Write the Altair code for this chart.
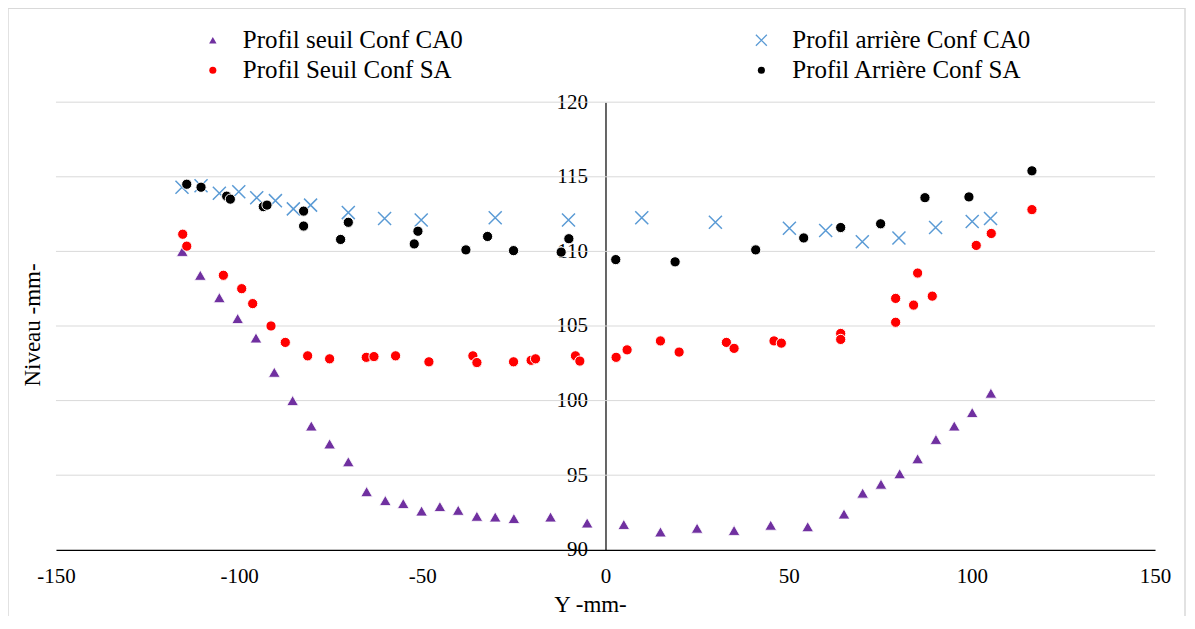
import altair as alt
import pandas as pd

# ---- data ----
seuil_ca0_x = [-115.5, -110.6, -105.4, -100.4, -95.4, -90.4, -85.4, -80.3, -75.3, -70.2, -65.2, -60.1,
               -55.2, -50.2, -45.2, -40.2, -35.1, -30.1, -25.0, -15.0, -5.0, 5.0, 15.0, 25.0, 35.1,
               45.1, 55.2, 65.1, 70.2, 75.2, 80.3, 85.2, 90.2, 95.2, 100.1, 105.2]
seuil_ca0_y = [110.0, 108.4, 106.9, 105.5, 104.2, 101.9, 100.0, 98.3, 97.1, 95.9, 93.9, 93.3,
               93.1, 92.6, 92.9, 92.65, 92.25, 92.2, 92.1, 92.2, 91.8, 91.7, 91.2, 91.45, 91.3,
               91.65, 91.55, 92.4, 93.8, 94.4, 95.1, 96.1, 97.4, 98.3, 99.2, 100.5]

seuil_sa_x = [-115.4, -114.3, -104.3, -99.3, -96.3, -91.3, -87.4, -81.3, -75.3, -65.3, -63.2, -57.3,
              -48.2, -36.2, -35.1, -25.1, -20.3, -19.1, -8.2, -7.0, 2.9, 5.9, 15.0, 20.1, 33.0, 35.1,
              46.0, 48.0, 64.2, 64.2, 79.2, 79.2, 84.1, 85.2, 89.2, 101.2, 105.3, 116.4]
seuil_sa_y = [111.15, 110.35, 108.4, 107.5, 106.5, 105.0, 103.9, 103.0, 102.8, 102.9, 102.95, 103.0,
              102.6, 103.0, 102.55, 102.6, 102.7, 102.8, 103.0, 102.65, 102.9, 103.4, 104.0, 103.25, 103.9, 103.5,
              104.0, 103.85, 104.5, 104.1, 105.25, 106.85, 106.4, 108.55, 107.0, 110.4, 111.2, 112.8]

arriere_ca0_x = [-115.6, -110.4, -105.4, -100.1, -95.2, -90.1, -85.2, -80.5, -70.2, -60.3, -50.3,
                 -30.1, -10.1, 9.9, 30.0, 50.2, 60.1, 70.1, 80.1, 90.1, 100.1, 105.1]
arriere_ca0_y = [114.3, 114.4, 113.9, 114.0, 113.6, 113.4, 112.85, 113.1, 112.6, 112.2, 112.1,
                 112.25, 112.1, 112.25, 111.95, 111.55, 111.4, 110.65, 110.9, 111.6, 112.0, 112.2]

arriere_sa_x = [-114.3, -110.4, -103.4, -102.4, -93.4, -92.4, -82.4, -82.4, -72.3, -70.2, -52.2, -51.2,
                -38.1, -32.2, -25.1, -12.1, -10.0, 2.8, 19.0, 41.0, 54.1, 64.2, 75.1, 87.2, 99.2, 116.4]
arriere_sa_y = [114.5, 114.3, 113.7, 113.5, 113.0, 113.1, 112.7, 111.7, 110.8, 111.95, 110.5, 111.35,
                110.1, 111.0, 110.05, 109.95, 110.85, 109.45, 109.3, 110.1, 110.9, 111.6, 111.85, 113.6, 113.65, 115.4]

series_names = ["Profil seuil Conf CA0", "Profil arrière Conf CA0",
                "Profil Seuil Conf SA", "Profil Arrière Conf SA"]
x_ticks = [-150, -100, -50, 0, 50, 100, 150]
y_ticks = [90, 95, 100, 105, 110, 115, 120]
grid_values = [95, 100, 105, 110, 115, 120]

# ---- styles ----
FONT = "Liberation Serif"
PURPLE = "#7030a0"
BLUE = "#5b9bd5"
RED = "#ff0000"
BLACK = "#000000"
W, H = 1100, 448
X_PATH = "M-1,-1L1,1M-1,1L1,-1"

xscale = alt.Scale(domain=[-150, 150], nice=False, zero=False)
yscale = alt.Scale(domain=[90, 120], nice=False, zero=False)
xaxis = alt.Axis(values=x_ticks, grid=False, ticks=False, domainColor="black", domainWidth=1.2,
                 labelFont=FONT, labelFontSize=21, labelColor="black", labelPadding=16,
                 labelFlush=False, labelOverlap=False, labelExpr="datum.value + ''", title=None)
yaxis = alt.Axis(values=y_ticks, orient="left", offset=-550, grid=False, ticks=False,
                 domainColor="black", domainWidth=1.2, labelFont=FONT, labelFontSize=21,
                 labelColor="black", labelPadding=18, labelFlush=False, labelOverlap=False,
                 labelExpr="datum.value + ''", title=None)


def df(xs, ys):
    return pd.DataFrame({"x": xs, "y": ys})


def enc(ch):
    return ch.encode(x=alt.X("x:Q", scale=xscale, axis=xaxis),
                     y=alt.Y("y:Q", scale=yscale, axis=yaxis))


grid = alt.Chart(pd.DataFrame({"v": grid_values})).mark_rule(color="#d9d9d9", strokeWidth=1).encode(
    y=alt.Y("v:Q", scale=yscale, axis=yaxis), x=alt.value(0), x2=alt.value(W))

border = alt.Chart(alt.Data(values=[{}])).mark_rect(fill=None, stroke="#d9d9d9", strokeWidth=1.5).encode(
    x=alt.value(-48), x2=alt.value(1130), y=alt.value(-94), y2=alt.value(620))

tri = enc(alt.Chart(df(seuil_ca0_x, seuil_ca0_y)).mark_point(
    shape="triangle-up", filled=True, fill=PURPLE, stroke="white", strokeWidth=0.8, size=135, opacity=1))
cross = enc(alt.Chart(df(arriere_ca0_x, arriere_ca0_y)).mark_point(
    shape=X_PATH, filled=False, stroke=BLUE, strokeWidth=1.5, size=170, opacity=1))
red = enc(alt.Chart(df(seuil_sa_x, seuil_sa_y)).mark_point(
    shape="circle", filled=True, fill=RED, stroke="white", strokeWidth=1, size=105, opacity=1))
blk = enc(alt.Chart(df(arriere_sa_x, arriere_sa_y)).mark_point(
    shape="circle", filled=True, fill=BLACK, stroke="white", strokeWidth=1, size=105, opacity=1))

one = alt.Data(values=[{}])


def sym(px, py, **kw):
    return alt.Chart(one).mark_point(opacity=1, **kw).encode(x=alt.value(px), y=alt.value(py))


def txt(s, px, py, **kw):
    return alt.Chart(one).mark_text(text=s, font=FONT, color="black", **kw).encode(
        x=alt.value(px), y=alt.value(py))


LFS = 25
legend = [
    sym(157, -62, shape="triangle-up", filled=True, fill=PURPLE, size=55),
    txt(series_names[0], 187, -62, align="left", baseline="middle", fontSize=LFS),
    sym(706, -62, shape=X_PATH, filled=False, stroke=BLUE, strokeWidth=1.3, size=120),
    txt(series_names[1], 737, -62, align="left", baseline="middle", fontSize=LFS),
    sym(157, -32, shape="circle", filled=True, fill=RED, size=50),
    txt(series_names[2], 187, -32, align="left", baseline="middle", fontSize=LFS),
    sym(706, -32, shape="circle", filled=True, fill=BLACK, size=50),
    txt(series_names[3], 737, -32, align="left", baseline="middle", fontSize=LFS),
]

ytitle = txt("Niveau -mm-", -23, 223, angle=270, align="center", baseline="middle", fontSize=23)
xtitle = txt("Y -mm-", 535, 503, align="center", baseline="middle", fontSize=23)

chart = alt.layer(border, grid, tri, red, cross, blk, ytitle, xtitle, *legend).properties(
    width=W, height=H,
    autosize=alt.AutoSizeParams(type="none"),
    padding={"left": 48, "top": 94, "right": 32, "bottom": 66},
).configure(font=FONT).configure_view(stroke=None).configure_axis(
    labelFont=FONT, labelFontSize=21, labelColor="black"
)

chart.save("out.html", embed_options={"renderer": "svg", "actions": False})
